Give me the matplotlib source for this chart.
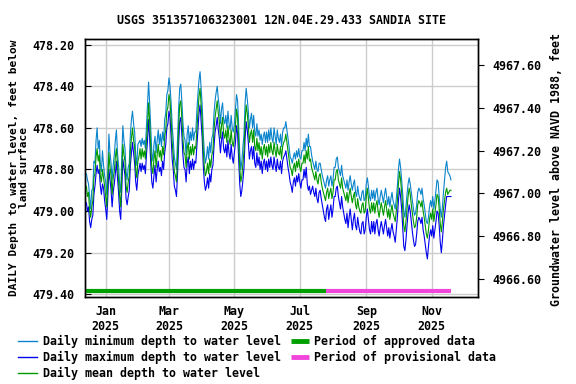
import numpy as np
import matplotlib
matplotlib.use('Agg')
import matplotlib.pyplot as plt
import matplotlib.dates as mdates
from matplotlib.lines import Line2D

# ---------------- data ----------------
start_date = '2024-12-14'

mean_depth = [
    478.88, 478.93, 478.91, 479.00, 479.03, 478.98, 478.95, 478.84, 478.82, 478.74,
    478.70, 478.76, 478.73, 478.83, 478.86, 478.80, 478.84, 478.88, 478.93, 478.98,
    478.86, 478.72, 478.79, 478.83, 478.92, 478.84, 478.81, 478.74, 478.70, 478.78,
    478.85, 478.93, 478.98, 478.82, 478.68, 478.73, 478.76, 478.88, 478.91, 478.86,
    478.83, 478.71, 478.65, 478.60, 478.66, 478.69, 478.80, 478.84, 478.76, 478.74,
    478.70, 478.75, 478.70, 478.74, 478.71, 478.75, 478.66, 478.59, 478.48, 478.57,
    478.69, 478.79, 478.82, 478.75, 478.71, 478.79, 478.73, 478.68, 478.74, 478.71,
    478.76, 478.69, 478.73, 478.64, 478.61, 478.52, 478.50, 478.44, 478.47, 478.56,
    478.67, 478.73, 478.81, 478.83, 478.86, 478.74, 478.60, 478.49, 478.47, 478.55,
    478.65, 478.72, 478.73, 478.79, 478.70, 478.67, 478.75, 478.69, 478.73, 478.68,
    478.73, 478.69, 478.70, 478.61, 478.53, 478.45, 478.41, 478.49, 478.57, 478.71,
    478.79, 478.83, 478.81, 478.77, 478.82, 478.75, 478.79, 478.73, 478.71, 478.61,
    478.55, 478.51, 478.47, 478.53, 478.57, 478.65, 478.59, 478.55, 478.63, 478.65,
    478.61, 478.67, 478.59, 478.65, 478.68, 478.61, 478.67, 478.69, 478.65, 478.59,
    478.51, 478.55, 478.67, 478.79, 478.86, 478.83, 478.77, 478.71, 478.57, 478.49,
    478.53, 478.59, 478.67, 478.63, 478.61, 478.67, 478.61, 478.69, 478.71, 478.65,
    478.71, 478.67, 478.73, 478.69, 478.75, 478.70, 478.68, 478.73, 478.69, 478.74,
    478.68, 478.72, 478.67, 478.71, 478.73, 478.67, 478.71, 478.74, 478.68, 478.72,
    478.73, 478.69, 478.75, 478.69, 478.67, 478.66, 478.63, 478.67, 478.71, 478.75,
    478.79, 478.80, 478.83, 478.79, 478.77, 478.81, 478.76, 478.79, 478.75, 478.79,
    478.81, 478.77, 478.77, 478.73, 478.77, 478.71, 478.75, 478.69, 478.76, 478.75,
    478.79, 478.81, 478.83, 478.85, 478.81, 478.85, 478.87, 478.83, 478.82, 478.86,
    478.89, 478.91, 478.93, 478.95, 478.91, 478.89, 478.94, 478.91, 478.89, 478.94,
    478.91, 478.85, 478.85, 478.81, 478.80, 478.85, 478.87, 478.89, 478.84, 478.89,
    478.91, 478.93, 478.95, 478.91, 478.96, 478.92, 478.89, 478.93, 478.96, 478.93,
    478.91, 478.97, 478.99, 478.94, 478.98, 479.00, 479.01, 478.97, 478.96, 479.01,
    479.00, 478.93, 478.89, 478.94, 478.99, 479.01, 478.96, 479.00, 478.96, 479.01,
    478.97, 478.95, 479.00, 479.03, 478.99, 478.96, 478.99, 479.02, 478.98, 478.95,
    478.99, 479.03, 478.99, 479.04, 479.00, 478.97, 479.01, 479.03, 479.05, 479.00,
    478.95, 478.87, 478.81, 478.85, 478.91, 478.99, 479.07, 479.10, 479.05, 478.99,
    478.93, 478.89, 478.92, 478.97, 479.01, 479.05, 479.08, 479.07, 479.03, 478.97,
    478.95, 478.96, 478.98, 478.95, 479.00, 479.03, 479.07, 479.11, 479.13, 479.09,
    479.04, 479.01, 479.04, 478.99, 479.05, 479.01, 478.97, 478.92, 478.93, 478.99,
    479.06, 479.10, 479.05, 478.99, 478.95, 478.91, 478.89, 478.92, 478.91, 478.90,
    478.90,
]

min_depth = [
    478.82, 478.85, 478.87, 478.93, 478.99, 478.90, 478.89, 478.76, 478.77, 478.66,
    478.60, 478.70, 478.66, 478.77, 478.81, 478.71, 478.78, 478.83, 478.86, 478.92,
    478.80, 478.63, 478.72, 478.77, 478.85, 478.78, 478.73, 478.66, 478.61, 478.72,
    478.78, 478.87, 478.91, 478.74, 478.59, 478.66, 478.70, 478.81, 478.85, 478.79,
    478.77, 478.63, 478.56, 478.52, 478.58, 478.62, 478.73, 478.78, 478.68, 478.67,
    478.66, 478.69, 478.65, 478.68, 478.66, 478.70, 478.59, 478.49, 478.38, 478.48,
    478.60, 478.72, 478.76, 478.68, 478.64, 478.72, 478.66, 478.61, 478.68, 478.63,
    478.69, 478.62, 478.66, 478.56, 478.53, 478.44, 478.42, 478.36, 478.40, 478.48,
    478.59, 478.66, 478.74, 478.77, 478.80, 478.66, 478.51, 478.41, 478.39, 478.47,
    478.57, 478.64, 478.66, 478.73, 478.63, 478.59, 478.68, 478.62, 478.66, 478.60,
    478.66, 478.62, 478.62, 478.52, 478.44, 478.37, 478.33, 478.41, 478.49, 478.63,
    478.72, 478.77, 478.74, 478.69, 478.75, 478.67, 478.72, 478.65, 478.63, 478.53,
    478.47, 478.43, 478.40, 478.46, 478.50, 478.58, 478.51, 478.48, 478.56, 478.58,
    478.54, 478.60, 478.52, 478.58, 478.61, 478.54, 478.60, 478.62, 478.58, 478.51,
    478.44, 478.47, 478.59, 478.72, 478.80, 478.76, 478.69, 478.63, 478.48, 478.41,
    478.46, 478.52, 478.60, 478.56, 478.53, 478.60, 478.54, 478.62, 478.64, 478.58,
    478.64, 478.61, 478.66, 478.63, 478.68, 478.64, 478.62, 478.67, 478.62, 478.67,
    478.61, 478.66, 478.60, 478.65, 478.67, 478.60, 478.64, 478.68, 478.61, 478.65,
    478.67, 478.63, 478.69, 478.62, 478.60, 478.60, 478.57, 478.61, 478.65, 478.69,
    478.74, 478.75, 478.77, 478.74, 478.72, 478.75, 478.71, 478.74, 478.70, 478.74,
    478.75, 478.71, 478.71, 478.67, 478.71, 478.65, 478.69, 478.63, 478.69, 478.69,
    478.73, 478.76, 478.78, 478.80, 478.76, 478.80, 478.81, 478.77, 478.77, 478.80,
    478.83, 478.85, 478.87, 478.89, 478.85, 478.83, 478.88, 478.85, 478.83, 478.88,
    478.85, 478.79, 478.79, 478.75, 478.74, 478.79, 478.81, 478.83, 478.78, 478.83,
    478.85, 478.87, 478.89, 478.85, 478.90, 478.86, 478.83, 478.87, 478.90, 478.87,
    478.85, 478.91, 478.93, 478.88, 478.92, 478.94, 478.95, 478.91, 478.90, 478.95,
    478.94, 478.87, 478.84, 478.88, 478.93, 478.95, 478.90, 478.94, 478.90, 478.95,
    478.91, 478.89, 478.94, 478.97, 478.93, 478.90, 478.93, 478.96, 478.92, 478.89,
    478.93, 478.97, 478.93, 478.98, 478.94, 478.91, 478.95, 478.97, 478.99, 478.94,
    478.88, 478.80, 478.75, 478.79, 478.85, 478.92, 479.00, 479.03, 478.98, 478.92,
    478.87, 478.84, 478.87, 478.91, 478.95, 478.99, 479.02, 479.01, 478.97, 478.91,
    478.89, 478.90, 478.92, 478.89, 478.94, 478.97, 479.01, 479.05, 479.06, 479.03,
    478.98, 478.95, 478.98, 478.93, 478.99, 478.95, 478.90, 478.85, 478.86, 478.93,
    478.99, 479.03, 478.98, 478.91, 478.85, 478.79, 478.76, 478.81, 478.82, 478.83,
    478.85,
]

max_depth = [
    478.96, 479.00, 478.98, 479.05, 479.08, 479.04, 479.02, 478.92, 478.88, 478.82,
    478.78, 478.82, 478.80, 478.88, 478.92, 478.87, 478.89, 478.95, 478.99, 479.04,
    478.93, 478.80, 478.85, 478.90, 478.98, 478.91, 478.87, 478.82, 478.76, 478.84,
    478.91, 479.00, 479.04, 478.90, 478.75, 478.79, 478.83, 478.94, 478.97, 478.93,
    478.90, 478.78, 478.72, 478.67, 478.72, 478.77, 478.86, 478.90, 478.83, 478.80,
    478.77, 478.81, 478.77, 478.80, 478.78, 478.82, 478.73, 478.66, 478.56, 478.65,
    478.77, 478.86, 478.89, 478.83, 478.78, 478.86, 478.80, 478.76, 478.81, 478.79,
    478.83, 478.76, 478.80, 478.72, 478.68, 478.60, 478.58, 478.52, 478.55, 478.64,
    478.75, 478.80, 478.88, 478.90, 478.93, 478.82, 478.68, 478.57, 478.55, 478.63,
    478.73, 478.79, 478.80, 478.86, 478.77, 478.74, 478.82, 478.76, 478.80, 478.75,
    478.80, 478.76, 478.77, 478.69, 478.61, 478.53, 478.49, 478.57, 478.65, 478.78,
    478.86, 478.90, 478.88, 478.84, 478.89, 478.82, 478.86, 478.80, 478.78, 478.69,
    478.62, 478.59, 478.55, 478.61, 478.65, 478.72, 478.66, 478.62, 478.70, 478.72,
    478.68, 478.74, 478.66, 478.72, 478.75, 478.68, 478.74, 478.77, 478.72, 478.67,
    478.59, 478.63, 478.75, 478.87, 478.93, 478.90, 478.85, 478.79, 478.65, 478.57,
    478.61, 478.67, 478.75, 478.71, 478.69, 478.75, 478.69, 478.77, 478.79, 478.72,
    478.78, 478.74, 478.80, 478.76, 478.82, 478.77, 478.75, 478.80, 478.76, 478.81,
    478.75, 478.79, 478.74, 478.78, 478.80, 478.74, 478.78, 478.81, 478.75, 478.79,
    478.80, 478.76, 478.82, 478.76, 478.74, 478.73, 478.71, 478.75, 478.79, 478.82,
    478.86, 478.88, 478.91, 478.86, 478.84, 478.88, 478.83, 478.86, 478.82, 478.86,
    478.89, 478.85, 478.85, 478.80, 478.84, 478.79, 478.87, 478.90, 478.88, 478.92,
    478.90, 478.88, 478.91, 478.93, 478.89, 478.94, 478.96, 478.91, 478.90, 478.94,
    478.97, 479.00, 479.03, 479.05, 478.99, 478.97, 479.04, 479.00, 478.97, 479.03,
    478.99, 478.93, 478.93, 478.89, 478.88, 478.93, 478.96, 478.99, 478.93, 478.98,
    479.01, 479.04, 479.06, 479.01, 479.08, 479.03, 478.99, 479.04, 479.09, 479.04,
    479.01, 479.07, 479.09, 479.03, 479.07, 479.10, 479.11, 479.06, 479.05, 479.11,
    479.09, 479.03, 478.99, 479.04, 479.09, 479.11, 479.05, 479.10, 479.05, 479.11,
    479.06, 479.04, 479.09, 479.12, 479.08, 479.05, 479.08, 479.11, 479.07, 479.04,
    479.08, 479.12, 479.08, 479.13, 479.09, 479.06, 479.10, 479.12, 479.15, 479.09,
    479.03, 478.95, 478.89, 478.93, 478.99, 479.08, 479.17, 479.19, 479.14, 479.07,
    479.01, 478.97, 479.00, 479.05, 479.10, 479.14, 479.17, 479.16, 479.11, 479.05,
    479.03, 479.04, 479.06, 479.03, 479.09, 479.12, 479.16, 479.20, 479.23, 479.17,
    479.12, 479.09, 479.12, 479.07, 479.13, 479.09, 479.05, 479.00, 479.01, 479.07,
    479.15, 479.20, 479.14, 479.07, 479.02, 478.97, 478.93, 478.93, 478.93, 478.93,
    478.93,
]

approved_period = ['2024-12-13', '2025-07-25']
provisional_period = ['2025-07-25', '2025-11-19']

month_ticks = ['2025-01-01', '2025-03-01', '2025-05-01', '2025-07-01', '2025-09-01', '2025-11-01']
month_labels = ['Jan\n2025', 'Mar\n2025', 'May\n2025', 'Jul\n2025', 'Sep\n2025', 'Nov\n2025']

left_ticks = [478.20, 478.40, 478.60, 478.80, 479.00, 479.20, 479.40]
right_ticks = [4966.60, 4966.80, 4967.00, 4967.20, 4967.40, 4967.60]

title = 'USGS 351357106323001 12N.04E.29.433 SANDIA SITE'
left_label = 'DAILY Depth to water level, feet below\nland surface'
right_label = 'Groundwater level above NAVD 1988, feet'
legend_labels = ['Daily minimum depth to water level',
                 'Daily maximum depth to water level',
                 'Daily mean depth to water level',
                 'Period of approved data',
                 'Period of provisional data']

# ---------------- styling ----------------
C_MIN = '#0a84cc'
C_MAX = '#0000ee'
C_MEAN = '#009900'
C_APPR = '#00a000'
C_PROV = '#f046dc'
C_GRID = '#cccccc'
FONT = dict(family='DejaVu Sans Mono', weight='bold', size=8.4)
FONT_L = dict(family='DejaVu Sans Mono', weight='bold', size=8.0)

W, H = 576, 384
fig = plt.figure(figsize=(W / 100, H / 100), dpi=100)
L, R, T, B = 85, 478, 39, 297
ax = fig.add_axes([L / W, 1 - B / H, (R - L) / W, (B - T) / H])

dates = np.datetime64(start_date) + np.arange(len(mean_depth))
lw = 0.8
ax.plot(dates, min_depth, color=C_MIN, lw=lw, zorder=3)
ax.plot(dates, max_depth, color=C_MAX, lw=lw, zorder=4)
ax.plot(dates, mean_depth, color=C_MEAN, lw=lw, zorder=5)

jan1 = mdates.date2num(np.datetime64('2025-01-01'))
ax.set_xlim(jan1 - 19.3, jan1 + 347.2)
ax.set_ylim(479.413, 478.173)

xt = [np.datetime64(d) for d in month_ticks]
ax.set_xticks(xt)
ax.set_xticklabels(month_labels, **FONT)
ax.tick_params(axis='x', length=0, pad=6)
ax.set_yticks(left_ticks)
ax.set_yticklabels(['%.2f' % v for v in left_ticks], **FONT)
ax.tick_params(axis='y', direction='in', length=4, width=0.8, pad=8)
ax.grid(True, color=C_GRID, lw=1.0)
ax.set_axisbelow(True)
for s in ax.spines.values():
    s.set_linewidth(1.0)
    s.set_color('black')

# approval period bars
bar_y = 0.023
tr = ax.get_xaxis_transform()
ax.plot([np.datetime64(approved_period[0]), np.datetime64(approved_period[1])], [bar_y, bar_y],
        transform=tr, color=C_APPR, lw=3, solid_capstyle='butt', zorder=6, clip_on=False)
ax.plot([np.datetime64(provisional_period[0]), np.datetime64(provisional_period[1])], [bar_y, bar_y],
        transform=tr, color=C_PROV, lw=3, solid_capstyle='butt', zorder=6, clip_on=False)

# right axis (elevation)
ax2 = ax.twinx()
ax2.set_ylim(4966.5175, 4967.720)
ax2.set_yticks(right_ticks)
ax2.set_yticklabels(['%.2f' % v for v in right_ticks], **FONT)
ax2.tick_params(axis='y', direction='out', length=4, width=0.8, pad=6)
for s in ax2.spines.values():
    s.set_linewidth(1.0)

# titles / axis labels
fig.text((L + R) / 2 / W, 1 - 20 / H, title, ha='center', va='center', **FONT)
fig.text(19 / W, 1 - 168 / H, left_label, rotation=90, ha='center', va='center',
         multialignment='center', linespacing=1.0, **FONT_L)
fig.text(557 / W, 1 - 170 / H, right_label, rotation=90, ha='center', va='center', **FONT)

# legend (manual)
rows = [341, 357, 373]
col1 = [(C_MIN, 1.0), (C_MAX, 1.0), (C_MEAN, 1.0)]
for (c, w), yy, lab in zip(col1, rows, legend_labels[:3]):
    fig.add_artist(Line2D([18 / W, 37 / W], [1 - yy / H] * 2, color=c, lw=w, transform=fig.transFigure))
    fig.text(43 / W, 1 - yy / H, lab, ha='left', va='center', **FONT)
for c, yy, lab in zip([C_APPR, C_PROV], rows[:2], legend_labels[3:]):
    fig.add_artist(Line2D([291 / W, 309 / W], [1 - yy / H] * 2, color=c, lw=3.5,
                          solid_capstyle='butt', transform=fig.transFigure))
    fig.text(314 / W, 1 - yy / H, lab, ha='left', va='center', **FONT)

fig.savefig('out.png', dpi=100)
